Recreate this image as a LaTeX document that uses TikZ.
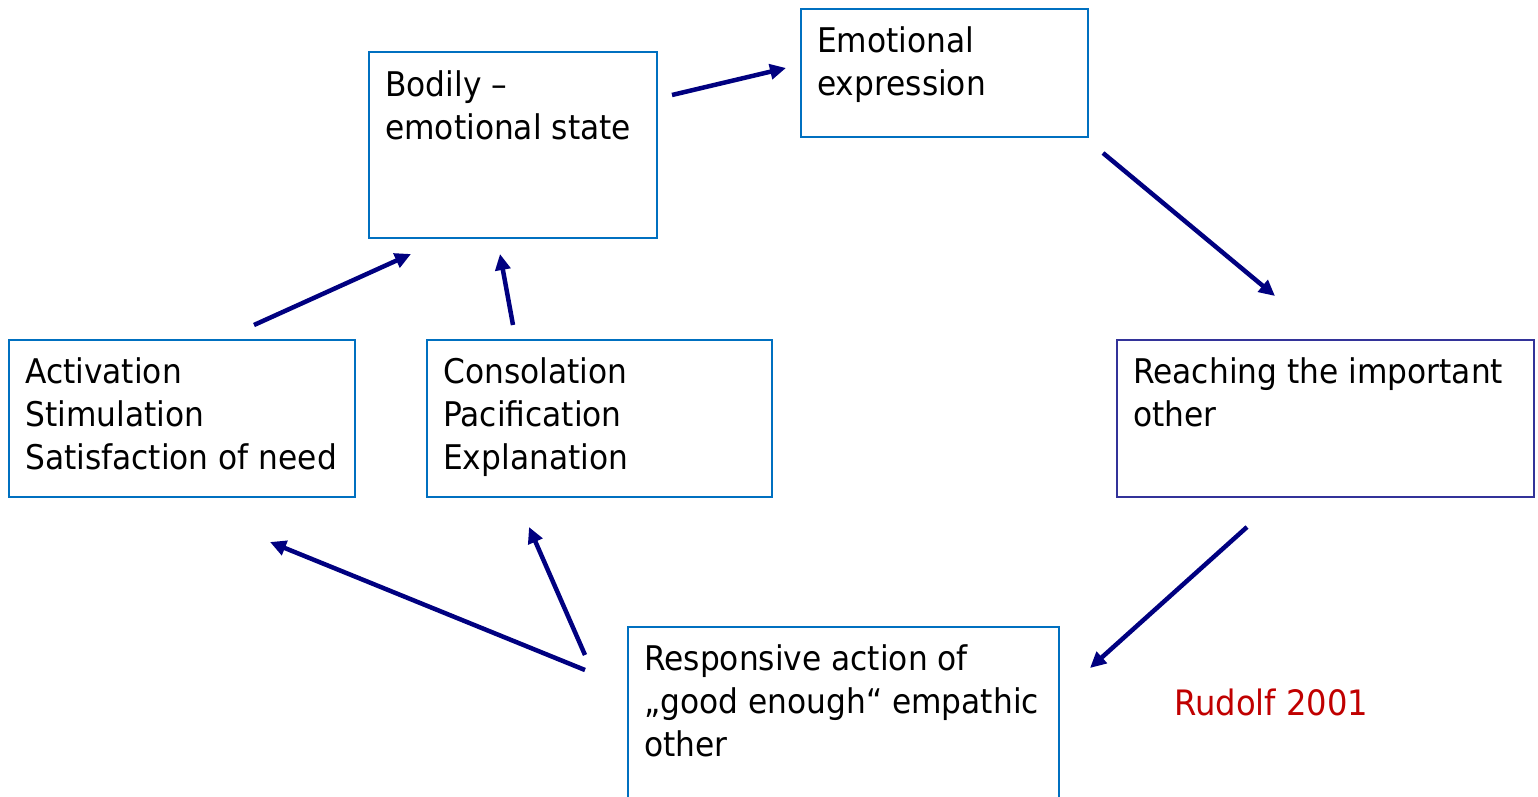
\documentclass[tikz,border=0pt]{standalone}
\usepackage{fontspec}
\setmainfont{DejaVu Sans}[FakeStretch=0.92]
\usetikzlibrary{arrows.meta}
\definecolor{boxblue}{RGB}{0,112,192}
\definecolor{boxnavy}{RGB}{51,51,153}
\definecolor{arrownavy}{RGB}{0,0,128}
\definecolor{citered}{RGB}{192,0,0}
\begin{document}
\begin{tikzpicture}[x=1pt,y=-1pt,
  box/.style={draw=boxblue,line width=1.3pt,fill=white},
  boxtext/.style={anchor=north west,inner sep=0pt,align=left,
    font=\fontsize{34}{43}\selectfont},
  flow/.style={draw=arrownavy,line width=4.5pt,
    -{Triangle[length=16pt,width=15pt]}}]
\useasboundingbox (0,0) rectangle (1538,797);
\clip (0,0) rectangle (1538,797);

% boxes
\draw[box] (369,52) rectangle (657,238);
\coordinate (bodily) at (369,52);
\draw[box] (801,9) rectangle (1088,137);
\coordinate (emo) at (801,9);
\draw[box] (9,340) rectangle (355,497);
\coordinate (act) at (9,340);
\draw[box] (427,340) rectangle (772,497);
\coordinate (cons) at (427,340);
\draw[box,draw=boxnavy] (1117,340) rectangle (1534,497);
\coordinate (reach) at (1117,340);
\draw[box] (628,627) rectangle (1059,810);
\coordinate (resp) at (628,627);

% box texts: first baseline 43pt below the box top (strut height 30.1pt)
\node[boxtext] (tbodily) at ([shift={(16,13.9)}]bodily) {\strut Bodily --\\emotional state};
\node[boxtext] (temo) at ([shift={(16,12.9)}]emo) {\strut Emotional\\expression};
\node[boxtext] (tact) at ([shift={(16,12.9)}]act) {\strut Activation\\Stimulation\\Satisfaction of need};
\node[boxtext] (tcons) at ([shift={(16,12.9)}]cons) {\strut Consolation\\Pacification\\Explanation};
\node[boxtext] (treach) at ([shift={(16,12.9)}]reach) {\strut Reaching the important\\other};
\node[boxtext] (tresp) at ([shift={(16,12.9)}]resp) {\strut Responsive action of\\„good enough“ empathic\\other};

\node[anchor=base west,inner sep=0pt,text=citered,
  font=\fontsize{35}{43}\selectfont] (cite) at (1174,715) {Rudolf 2001};

% arrow end points
\coordinate (a1s) at (672,95);   \coordinate (a1e) at (786,68);
\coordinate (a2s) at (1103,153); \coordinate (a2e) at (1275,296);
\coordinate (a3s) at (1247,527); \coordinate (a3e) at (1090,668);
\coordinate (a4s) at (585,670);  \coordinate (a4e) at (270,542);
\coordinate (a5s) at (585,655);  \coordinate (a5e) at (529,527);
\coordinate (a6s) at (254,325);  \coordinate (a6e) at (411,254);
\coordinate (a7s) at (513,325);  \coordinate (a7e) at (500,254);

\draw[flow] (a1s) -- (a1e);
\draw[flow] (a2s) -- (a2e);
\draw[flow] (a3s) -- (a3e);
\draw[flow] (a4s) -- (a4e);
\draw[flow] (a5s) -- (a5e);
\draw[flow] (a6s) -- (a6e);
\draw[flow] (a7s) -- (a7e);
\end{tikzpicture}
\end{document}
